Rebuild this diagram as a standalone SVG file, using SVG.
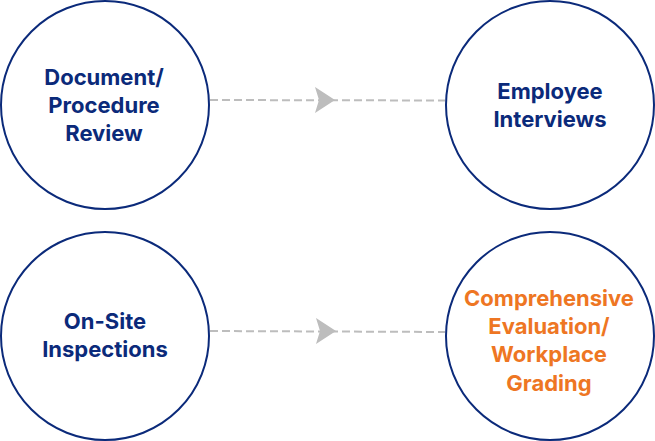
<svg xmlns="http://www.w3.org/2000/svg" width="655" height="441" viewBox="0 0 655 441">
<style>
.c{fill:#fff;stroke:#0b2a7a;stroke-width:2}
.t{font-family:Inter,"Liberation Sans",sans-serif;font-weight:700;font-size:22px;fill:#0b2a7a;text-anchor:middle}
.o{fill:#ee7623}
.l{stroke:#bdbdbd;stroke-width:2;stroke-dasharray:8 4;fill:none}
.a{fill:#bdbdbd}
</style>
<rect width="655" height="441" fill="#fff"/>
<g id="connectors">
<line class="l" x1="210" y1="100" x2="445" y2="100.5"/>
<path class="a" d="M315,87 L335,100 L315,113 L319,100 Z"/>
<line class="l" x1="210" y1="331" x2="445" y2="332"/>
<path class="a" d="M316,318 L336,331 L316,344 L320,331 Z"/>
</g>
<g id="node1">
<circle class="c" cx="105" cy="105" r="104"/>
<text class="t" x="104" y="85">Document/</text>
<text class="t" x="104" y="113">Procedure</text>
<text class="t" x="104" y="141">Review</text>
</g>
<g id="node2">
<circle class="c" cx="550" cy="105" r="104"/>
<text class="t" x="550" y="99">Employee</text>
<text class="t" x="550" y="127">Interviews</text>
</g>
<g id="node3">
<circle class="c" cx="105" cy="336" r="104"/>
<text class="t" x="105" y="329">On-Site</text>
<text class="t" x="105" y="357">Inspections</text>
</g>
<g id="node4">
<circle class="c" cx="550" cy="336" r="104"/>
<text class="t o" x="549" y="306">Comprehensive</text>
<text class="t o" x="549" y="334">Evaluation/</text>
<text class="t o" x="549" y="362">Workplace</text>
<text class="t o" x="549" y="391">Grading</text>
</g>
</svg>
